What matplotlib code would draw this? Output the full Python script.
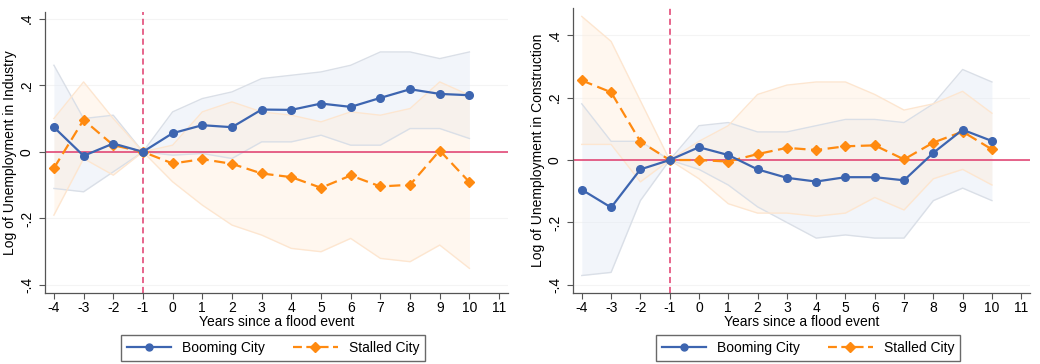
import matplotlib
matplotlib.use("Agg")
import matplotlib.pyplot as plt
from matplotlib.lines import Line2D

plt.rcParams['font.family'] = ['Liberation Sans', 'DejaVu Sans']

years = [-4, -3, -2, -1, 0, 1, 2, 3, 4, 5, 6, 7, 8, 9, 10]

# Panel 1: Industry
ind_boom = [0.074, -0.012, 0.025, 0.0, 0.056, 0.080, 0.074, 0.127, 0.126, 0.145, 0.135, 0.162, 0.188, 0.174, 0.170]
ind_boom_hi = [0.26, 0.10, 0.11, 0.0, 0.12, 0.16, 0.18, 0.22, 0.23, 0.24, 0.26, 0.30, 0.30, 0.28, 0.30]
ind_boom_lo = [-0.11, -0.12, -0.06, 0.0, -0.01, -0.005, -0.02, 0.03, 0.03, 0.05, 0.02, 0.02, 0.07, 0.07, 0.04]
ind_stall = [-0.049, 0.096, 0.020, 0.0, -0.035, -0.022, -0.036, -0.065, -0.076, -0.108, -0.071, -0.104, -0.099, 0.004, -0.091]
ind_stall_hi = [0.10, 0.21, 0.10, 0.0, 0.02, 0.12, 0.15, 0.12, 0.11, 0.09, 0.12, 0.11, 0.13, 0.21, 0.17]
ind_stall_lo = [-0.19, -0.02, -0.07, 0.0, -0.09, -0.16, -0.22, -0.25, -0.29, -0.30, -0.26, -0.32, -0.33, -0.28, -0.35]

# Panel 2: Construction
con_boom = [-0.095, -0.152, -0.030, 0.0, 0.041, 0.016, -0.030, -0.057, -0.069, -0.055, -0.055, -0.065, 0.023, 0.097, 0.061]
con_boom_hi = [0.18, 0.06, 0.06, 0.0, 0.11, 0.12, 0.09, 0.09, 0.11, 0.13, 0.13, 0.12, 0.18, 0.29, 0.25]
con_boom_lo = [-0.37, -0.36, -0.13, 0.0, -0.03, -0.08, -0.15, -0.20, -0.25, -0.24, -0.25, -0.25, -0.13, -0.09, -0.13]
con_stall = [0.255, 0.217, 0.059, 0.0, 0.0, -0.005, 0.019, 0.039, 0.032, 0.044, 0.047, 0.002, 0.056, 0.091, 0.034]
con_stall_hi = [0.46, 0.38, 0.19, 0.0, 0.06, 0.11, 0.21, 0.24, 0.25, 0.25, 0.21, 0.16, 0.18, 0.22, 0.15]
con_stall_lo = [0.05, 0.05, -0.07, 0.0, -0.06, -0.14, -0.17, -0.17, -0.18, -0.17, -0.12, -0.16, -0.06, -0.03, -0.08]

xticks = list(range(-4, 12))
yticks = [-0.4, -0.2, 0.0, 0.2, 0.4]
ytick_labels = ['-.4', '-.2', '0', '.2', '.4']
xlabel = 'Years since a flood event'
ylabels = ['Log of Unemployment in Industry', 'Log of Unemployment in Construction']
legend_labels = ['Booming City', 'Stalled City']

BLUE = '#3d65b0'
ORANGE = '#ff8a10'
RED = '#e03a6c'

W, H = 1040, 364
fig = plt.figure(figsize=(W / 100, H / 100), dpi=100)


def px_axes(l, r, t, b):
    return fig.add_axes([l / W, (H - b) / H, (r - l) / W, (b - t) / H])


panels = [
    dict(rect=(45, 508, 12, 293), ylim=(-0.424, 0.42),
         boom=ind_boom, bhi=ind_boom_hi, blo=ind_boom_lo,
         stall=ind_stall, shi=ind_stall_hi, slo=ind_stall_lo,
         ylabel=ylabels[0], legx=273),
    dict(rect=(573, 1030, 8, 293), ylim=(-0.426, 0.487),
         boom=con_boom, bhi=con_boom_hi, blo=con_boom_lo,
         stall=con_stall, shi=con_stall_hi, slo=con_stall_lo,
         ylabel=ylabels[1], legx=808),
]

for p in panels:
    ax = px_axes(*p['rect'])
    ax.set_xlim(-4.3, 11.3)
    ax.set_ylim(*p['ylim'])
    for y in yticks:
        ax.axhline(y, color='#f4f4f4', lw=0.8, zorder=0)
    # CI bands
    ax.fill_between(years, p['blo'], p['bhi'], color='#e4ebf6', alpha=0.45, lw=0, zorder=1)
    ax.plot(years, p['bhi'], color='#dadfe7', lw=1.0, zorder=1.5)
    ax.plot(years, p['blo'], color='#dadfe7', lw=1.0, zorder=1.5)
    ax.fill_between(years, p['slo'], p['shi'], color='#ffeedd', alpha=0.45, lw=0, zorder=1)
    ax.plot(years, p['shi'], color='#fde6d0', lw=1.0, zorder=1.5)
    ax.plot(years, p['slo'], color='#fde6d0', lw=1.0, zorder=1.5)
    # reference lines
    ax.axhline(0, color=RED, lw=1.1, zorder=2)
    ax.axvline(-1, color=RED, lw=1.1, ls=(0, (4, 2.5)), zorder=2)
    # series
    ax.plot(years, p['boom'], color=BLUE, lw=1.6, marker='o', ms=5.5, zorder=4)
    ax.plot(years, p['stall'], color=ORANGE, lw=1.6, ls=(0, (5, 2.5)),
            marker='D', ms=5.5, zorder=3)
    ax.set_xticks(xticks)
    ax.set_xticklabels([str(v) for v in xticks], fontsize=10)
    ax.set_yticks(yticks)
    ax.set_yticklabels(ytick_labels, fontsize=10, rotation=90, va='center')
    ax.tick_params(direction='out', length=4, color='#555555', width=0.8, pad=2)
    ax.tick_params(axis='y', pad=4)
    for s in ['top', 'right']:
        ax.spines[s].set_visible(False)
    for s in ['left', 'bottom']:
        ax.spines[s].set_color('#555555')
        ax.spines[s].set_linewidth(0.9)
    ax.set_xlabel(xlabel, fontsize=10, labelpad=0)
    ax.set_ylabel(p['ylabel'], fontsize=10, labelpad=2)

    handles = [
        Line2D([], [], color=BLUE, lw=1.6, marker='o', ms=5),
        Line2D([], [], color=ORANGE, lw=1.6, ls=(0, (4, 2)), marker='D', ms=5),
    ]
    fig.legend(handles, legend_labels, loc='center',
               bbox_to_anchor=(p['legx'] / W, (H - 348) / H),
               ncol=2, fontsize=10, frameon=True, fancybox=False,
               edgecolor='#444444', handlelength=3.2, columnspacing=2.0,
               borderpad=0.45, handletextpad=0.8)

fig.savefig('out.png', dpi=100, facecolor='white')
